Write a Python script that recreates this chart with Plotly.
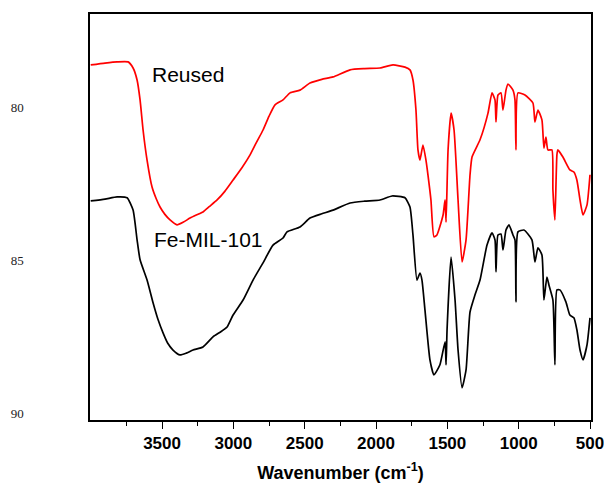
import plotly.graph_objects as go

# Reused sample spectrum (wavenumber, transmittance-like value on reversed axis)
reused_wn = [4000, 3900, 3815, 3738, 3703, 3675, 3654, 3633, 3605, 3570, 3540, 3514, 3480, 3444, 3395,
             3350, 3304, 3260, 3213, 3170, 3114, 3060, 3002, 2940, 2883, 2840, 2792, 2750, 2708, 2652, 2603, 2533, 2463, 2380, 2301, 2182,
             2080, 1972, 1881, 1797, 1762, 1741, 1720, 1706, 1692, 1671, 1650, 1636, 1615, 1594,
             1573, 1530, 1516, 1509, 1495, 1474, 1453, 1425, 1397, 1369, 1341, 1327, 1271,
             1215, 1187, 1166, 1159, 1145, 1124, 1110, 1089, 1075, 1040, 1026, 1019, 1005,
             956, 900, 886, 865, 837, 823, 809, 795, 767, 760, 746, 732, 725, 690, 641, 613,
             592, 570, 549, 521, 500]
reused_val = [78.63, 78.57, 78.53, 78.53, 78.73, 79.12, 79.77, 80.75, 81.73, 82.61, 83.00, 83.26, 83.50, 83.68, 83.84,
              83.75, 83.62, 83.52, 83.42, 83.25, 83.03, 82.75, 82.38, 81.98, 81.56, 81.17, 80.75, 80.30, 79.93, 79.77, 79.54, 79.45, 79.22, 79.10, 79.02, 78.79,
              78.75, 78.73, 78.63, 78.70, 78.79, 79.12, 80.10, 81.40, 81.73, 81.24, 81.73, 82.21, 83.03, 84.23,
              84.17, 83.52, 83.03, 83.75, 81.40, 80.20, 80.75, 83.03, 85.05, 84.33, 82.21, 81.63, 81.07,
              80.20, 79.54, 79.77, 80.49, 79.61, 79.54, 80.10, 79.45, 79.25, 79.45, 79.77, 81.40, 79.54,
              79.61, 79.87, 80.49, 80.10, 80.42, 81.34, 80.98, 81.40, 81.40, 82.70, 83.68, 81.56,
              81.40, 81.63, 82.05, 82.12, 82.38, 83.03, 83.52, 83.19, 82.21]

# Fresh Fe-MIL-101 spectrum
fresh_wn = [4000, 3900, 3815, 3745, 3703, 3675, 3654, 3605, 3563, 3530, 3493, 3460, 3423, 3374, 3330, 3283, 3213,
            3143, 3090, 3044, 3002, 2932, 2862, 2792, 2722, 2652, 2624, 2533, 2463, 2380, 2301, 2182, 2080, 1972,
            1888, 1797, 1762, 1741, 1713, 1692, 1678, 1657, 1622, 1594, 1552, 1516, 1509, 1502,
            1474, 1446, 1425, 1397, 1369, 1341, 1306, 1271, 1222, 1187, 1166, 1159, 1145, 1124,
            1110, 1089, 1068, 1040, 1026, 1019, 1005, 963, 907, 886, 865, 837, 823, 802, 788,
            760, 746, 732, 711, 669, 641, 613, 592, 570, 549, 521, 500]
fresh_val = [83.06, 83.00, 82.93, 82.96, 83.36, 84.33, 84.98, 85.64, 86.38, 86.90, 87.36, 87.70, 87.92, 88.08, 88.02, 87.92, 87.82,
             87.49, 87.33, 87.17, 86.78, 86.29, 85.64, 85.08, 84.50, 84.27, 84.07, 83.91, 83.62, 83.48, 83.36, 83.13, 83.07, 83.03,
             82.90, 82.96, 83.26, 84.17, 85.64, 85.41, 85.64, 86.61, 88.24, 88.73, 88.40, 87.65, 88.40, 87.26,
             84.89, 86.29, 87.92, 89.15, 88.57, 86.68, 86.12, 85.64, 84.50, 84.10, 84.33, 85.37, 84.17, 84.14,
             84.66, 84.01, 83.84, 84.17, 84.33, 86.35, 84.07, 84.01, 84.33, 85.05, 84.59, 84.82, 86.29, 85.54, 85.80,
             86.29, 88.40, 85.96, 85.96, 86.35, 86.78, 86.87, 87.26, 87.92, 88.24, 87.75, 86.87]

x_ticks = [3500, 3000, 2500, 2000, 1500, 1000, 500]
x_minor = [3750, 3250, 2750, 2250, 1750, 1250, 750]
y_ticks = [80, 85, 90]
labels = ["Reused", "Fe-MIL-101"]

fig = go.Figure()
fig.add_trace(go.Scatter(x=reused_wn, y=reused_val, mode="lines",
                         line=dict(color="#ff0000", width=1.7, shape="spline", smoothing=0.5), name=labels[0]))
fig.add_trace(go.Scatter(x=fresh_wn, y=fresh_val, mode="lines",
                         line=dict(color="#000000", width=1.7, shape="spline", smoothing=0.5), name=labels[1]))

fig.add_annotation(x=3584, y=78.93, text=labels[0], showarrow=False, xanchor="left", yanchor="middle",
                   font=dict(family="Arial, Liberation Sans", size=21, color="#000"))
fig.add_annotation(x=3570, y=84.33, text=labels[1], showarrow=False, xanchor="left", yanchor="middle",
                   font=dict(family="Arial, Liberation Sans", size=21, color="#000"))

fig.update_layout(
    width=604, height=483,
    margin=dict(l=90, r=13, t=14, b=63),
    paper_bgcolor="white", plot_bgcolor="white",
    showlegend=False,
    xaxis=dict(range=[4005, 493], tickvals=x_ticks, ticktext=[str(v) for v in x_ticks],
               automargin=False, ticklabeloverflow="allow",
               ticks="outside", ticklen=7, tickwidth=1.3, tickcolor="#000",
               minor=dict(tickvals=x_minor, ticks="outside", ticklen=4, tickwidth=1.3, tickcolor="#000"),
               showgrid=False, zeroline=False, showline=True, linecolor="#000", linewidth=1.5, mirror=True,
               tickfont=dict(family="Arial, Liberation Sans", size=17, color="#000", weight="bold"),
               title=dict(text="<b>Wavenumber (cm<sup>-1</sup>)</b>", standoff=15,
                          font=dict(family="Arial, Liberation Sans", size=18, color="#000"))),
    yaxis=dict(range=[90.2, 76.97], tickvals=y_ticks, ticks="", ticklabelstandoff=62,
               automargin=False,
               showgrid=False, zeroline=False, showline=True, linecolor="#000", linewidth=1.5, mirror=True,
               tickfont=dict(family="Liberation Serif, Times New Roman", size=13, color="#222")),
)

fig.write_html("out.html", config={"displayModeBar": False},
               post_script="document.body.style.margin='0px';document.body.style.padding='0px';")
